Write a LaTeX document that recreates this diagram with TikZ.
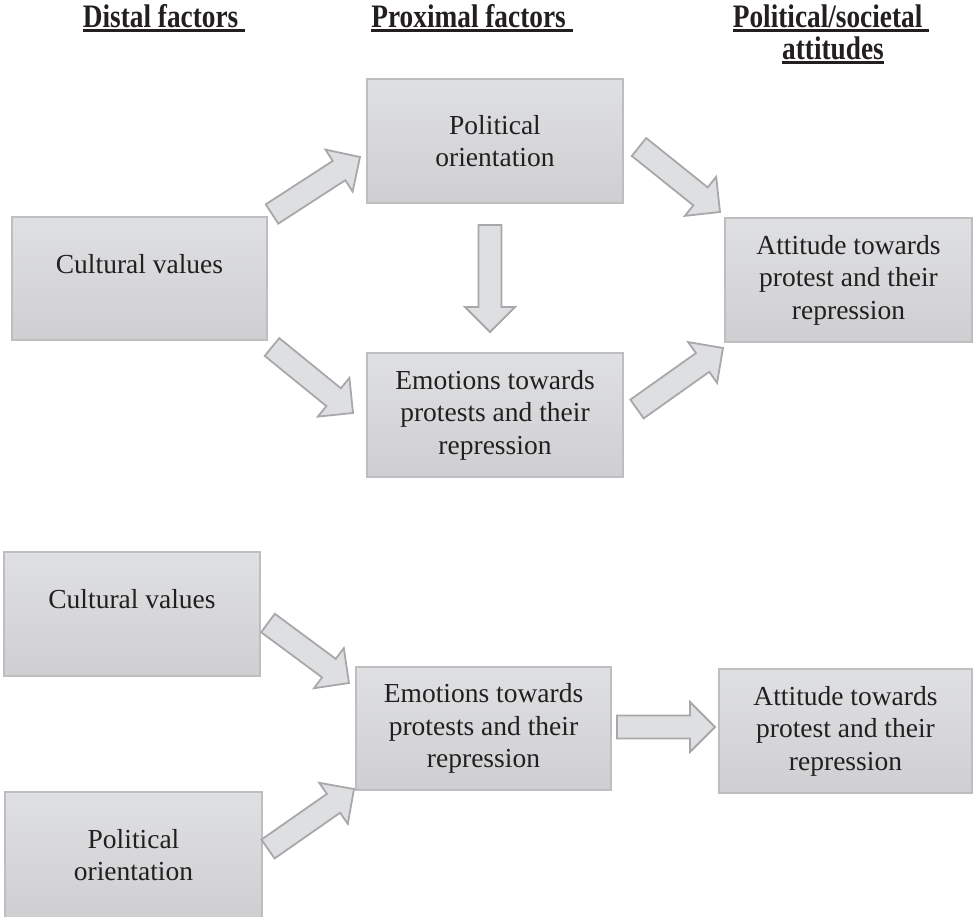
\documentclass[tikz,border=0pt]{standalone}
\usepackage{fontspec}
\usepackage{graphicx}
\setmainfont{Liberation Serif}
\usetikzlibrary{calc}
\definecolor{boxtop}{HTML}{DFE0E2}
\definecolor{boxbot}{HTML}{CFCFD1}
\definecolor{boxline}{HTML}{BEBEC0}
\definecolor{arrfill}{HTML}{DEDFE1}
\definecolor{arrline}{HTML}{A8A8AA}
\definecolor{txt}{HTML}{231F20}
\newcommand\ulbf[1]{\scalebox{1}[1.2]{\setbox0=\hbox{#1}\rlap{\rule[-4pt]{\wd0}{2.2pt}}\box0}}
\newcommand\blockarr[3]{%
  \coordinate (#3) at ($(#2)!25pt!(#1)$);
  \draw[blockarrow] ($(#1)!11.5pt!90:(#2)$) -- ($(#3)!11.5pt!90:(#2)$)
    -- ($(#3)!25pt!90:(#2)$) -- (#2) -- ($(#3)!25pt!-90:(#2)$)
    -- ($(#3)!11.5pt!-90:(#2)$) -- ($(#1)!11.5pt!-90:(#2)$) -- cycle;}
\tikzset{
  box/.style={draw=boxline, line width=1.2pt, top color=boxtop, bottom color=boxbot,
    inner sep=0pt, align=center, text=txt, font=\fontsize{27.5}{32.5}\selectfont},
  upshift/.style={text height=19pt, text depth=29.5pt},
  blockarrow/.style={draw=arrline, fill=arrfill, line width=1.8pt, line join=miter},
  head/.style={font=\fontsize{27.3}{31}\selectfont\bfseries, text=txt, inner sep=0pt, anchor=base}
}
\begin{document}
\begin{tikzpicture}[x=1pt, y=-1pt]
\useasboundingbox (0,0) rectangle (974,916);
% headers
\node[head] (h1) at (164,27) {\ulbf{Distal factors\ }};
\node[head] (h2) at (472,27) {\ulbf{Proximal factors\ }};
\node[head] (h3) at (831,27) {\ulbf{Political/societal\ }};
\node[head] (h4) at (833,59) {\ulbf{attitudes}};
% top diagram
\node[box, upshift, minimum width=255pt, minimum height=123pt] (cv1) at (139.5,278.5) {Cultural values};
\node[box, minimum width=256pt, minimum height=124pt] (po1) at (495,141) {Political\\orientation};
\node[box, minimum width=256pt, minimum height=124pt] (em1) at (495,415) {Emotions towards\\protests and their\\repression};
\node[box, minimum width=247pt, minimum height=124pt] (at1) at (848.5,280) {Attitude towards\\protest and their\\repression};
% bottom diagram
\node[box, upshift, minimum width=256pt, minimum height=124pt] (cv2) at (132,614) {Cultural values};
\node[box, minimum width=257pt, minimum height=126pt] (po2) at (133.5,855) {Political\\orientation};
\node[box, minimum width=255pt, minimum height=123pt] (em2) at (483.5,728.5) {Emotions towards\\protests and their\\repression};
\node[box, minimum width=253pt, minimum height=124pt] (at2) at (845.5,731) {Attitude towards\\protest and their\\repression};
% arrow end points
\coordinate (a1s) at (272,214); \coordinate (a1e) at (360,157);
\coordinate (a2s) at (639,147); \coordinate (a2e) at (720,212);
\coordinate (a3s) at (272,347); \coordinate (a3e) at (353,413);
\coordinate (a4s) at (637,409); \coordinate (a4e) at (723,348);
\coordinate (a5s) at (490,225); \coordinate (a5e) at (490,332);
\coordinate (a6s) at (268,623); \coordinate (a6e) at (349,683);
\coordinate (a7s) at (268,849); \coordinate (a7e) at (354,789);
\coordinate (a8s) at (617,727); \coordinate (a8e) at (715,727);
\blockarr{a1s}{a1e}{a1h}
\blockarr{a2s}{a2e}{a2h}
\blockarr{a3s}{a3e}{a3h}
\blockarr{a4s}{a4e}{a4h}
\blockarr{a5s}{a5e}{a5h}
\blockarr{a6s}{a6e}{a6h}
\blockarr{a7s}{a7e}{a7h}
\blockarr{a8s}{a8e}{a8h}
\end{tikzpicture}
\end{document}
